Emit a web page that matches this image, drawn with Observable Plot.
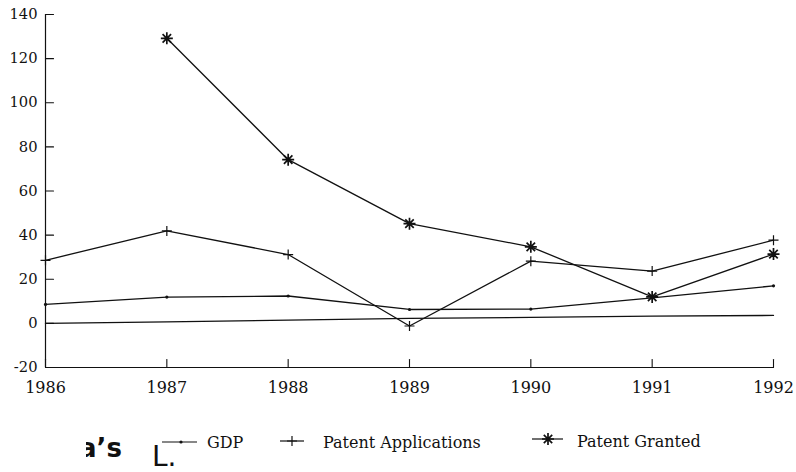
<!DOCTYPE html>
<html>
<head>
<meta charset="utf-8">
<script src="https://cdn.jsdelivr.net/npm/d3@7"></script>
<script src="https://cdn.jsdelivr.net/npm/@observablehq/plot@0.6"></script>
<style>
  html, body { margin: 0; padding: 0; background: #fff; }
  #wrap { position: relative; width: 796px; height: 472px; overflow: hidden; background: #fff; }
  #legend { position: absolute; left: 0; top: 400px; }
</style>
</head>
<body>
<div id="wrap"></div>
<script>
// ---- data ----
const years = [1986, 1987, 1988, 1989, 1990, 1991, 1992];
const gdp = [8.6, 11.9, 12.4, 6.3, 6.5, 11.6, 17.0];
const patentApplications = [28.6, 41.9, 31.2, -1.2, 28.2, 23.7, 37.7];
const patentGranted = [null, 129.2, 74.2, 45.2, 34.7, 12.0, 31.4];
const zeroLine = [0, 0.7, 1.5, 2.3, 2.7, 3.3, 3.6];
const yTicks = [-20, 0, 20, 40, 60, 80, 100, 120, 140];
const seriesNames = ["GDP", "Patent Applications", "Patent Granted"];
const fragmentText = "a\u2019s";
const fragmentMark = "L.";

const rows = (vals) => years.map((year, i) => ({year, value: vals[i]}));

// custom marker shapes
const tickShape = { draw(ctx, l) { ctx.moveTo(0, 0); ctx.lineTo(0, -l); } };
const plusSym = { draw(ctx) { const a = 5; ctx.moveTo(-a, 0); ctx.lineTo(a, 0); ctx.moveTo(0, -a); ctx.lineTo(0, a); } };
const starSym = { draw(ctx) {
  const a = 6;
  for (let k = 0; k < 4; k++) {
    const t = k * Math.PI / 4;
    ctx.moveTo(-a * Math.cos(t), -a * Math.sin(t));
    ctx.lineTo(a * Math.cos(t), a * Math.sin(t));
  }
} };

const ink = "#111";

const chart = Plot.plot({
  width: 796,
  height: 400,
  marginLeft: 45,
  marginRight: 23,
  marginTop: 14,
  marginBottom: 33,
  x: {domain: [1986, 1992], label: null},
  y: {domain: [-20, 140], label: null},
  style: {fontFamily: "DejaVu Serif", fontSize: "15px", color: ink, background: "#fff", overflow: "visible"},
  marks: [
    // axes lines
    Plot.ruleX([1986], {y1: -20, y2: 140, stroke: ink, strokeWidth: 1.2}),
    Plot.ruleY([-20], {x1: 1986, x2: 1992, stroke: ink, strokeWidth: 1.2}),
    // inward ticks
    Plot.vector(years, {x: d => d, y: () => -20, length: 8, rotate: 0, anchor: "start", shape: tickShape, stroke: ink, strokeWidth: 1.1}),
    Plot.vector(yTicks, {x: () => 1986, y: d => d, length: 8, rotate: 90, anchor: "start", shape: tickShape, stroke: ink, strokeWidth: 1.1}),
    // tick labels
    Plot.axisX(years, {tickSize: 0, tickPadding: 14, tickFormat: d => String(d), fontSize: 16, fill: ink, label: null}),
    Plot.axisY(yTicks, {tickSize: 0, tickPadding: 8, tickFormat: d => String(d), fontSize: 14.7, fill: ink, label: null}),
    // series
    Plot.line(rows(zeroLine), {x: "year", y: "value", stroke: ink, strokeWidth: 1.3}),
    Plot.line(rows(gdp), {x: "year", y: "value", stroke: ink, strokeWidth: 1.3}),
    Plot.dot(rows(gdp), {x: "year", y: "value", r: 1.6, fill: ink, stroke: "none"}),
    Plot.line(rows(patentApplications), {x: "year", y: "value", stroke: ink, strokeWidth: 1.3}),
    Plot.dot(rows(patentApplications), {x: "year", y: "value", symbol: plusSym, r: 5, fill: "none", stroke: ink, strokeWidth: 1.2}),
    Plot.line(rows(patentGranted), {x: "year", y: "value", stroke: ink, strokeWidth: 1.3}),
    Plot.dot(rows(patentGranted), {x: "year", y: "value", symbol: starSym, r: 6, fill: "none", stroke: ink, strokeWidth: 1.7})
  ]
});

const wrap = document.getElementById("wrap");
wrap.appendChild(chart);

// ---- legend below the chart ----
const ns = "http://www.w3.org/2000/svg";
const lg = document.createElementNS(ns, "svg");
lg.setAttribute("id", "legend");
lg.setAttribute("width", 796);
lg.setAttribute("height", 72);
lg.innerHTML = `
  <defs><clipPath id="fragclip"><rect x="86" y="0" width="70" height="72"/></clipPath></defs>
  <text x="79" y="57" clip-path="url(#fragclip)" font-family="DejaVu Sans" font-weight="bold" font-size="26" fill="${ink}">${fragmentText}</text>
  <text x="152" y="66" font-family="DejaVu Sans" font-size="28" fill="${ink}">${fragmentMark}</text>
  <g stroke="${ink}" stroke-width="1.2" fill="none">
    <line x1="162" y1="42" x2="197" y2="42"/>
    <line x1="280" y1="41" x2="304" y2="41"/>
    <line x1="532" y1="39" x2="563" y2="39"/>
    <path d="M287,41H297M292,36V46"/>
    <path d="M542,39H554M548,33V45M543.8,34.8L552.2,43.2M543.8,43.2L552.2,34.8" stroke-width="1.7"/>
  </g>
  <circle cx="181" cy="42" r="1.6" fill="${ink}"/>
  <g font-family="DejaVu Serif" font-size="16" fill="${ink}">
    <text x="207" y="48">${seriesNames[0]}</text>
    <text x="323" y="48">${seriesNames[1]}</text>
    <text x="577" y="47">${seriesNames[2]}</text>
  </g>
`;
wrap.appendChild(lg);
</script>
</body>
</html>
